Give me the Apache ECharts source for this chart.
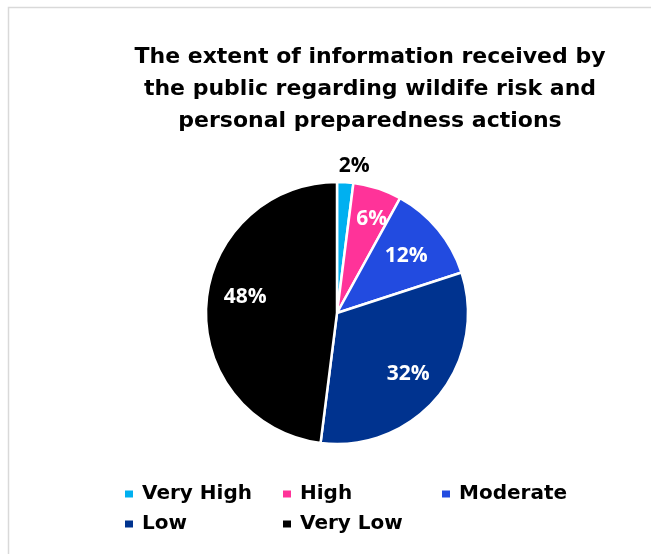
<!DOCTYPE html>
<html>
<head>
<meta charset="utf-8">
<script src="https://cdn.jsdelivr.net/npm/echarts@6/dist/echarts.min.js"></script>
<style>
html,body{margin:0;padding:0;background:#fff;}
#chart{width:651px;height:554px;}
</style>
</head>
<body>
<div id="chart"></div>
<script>
var titleText = 'The extent of information received by\nthe public regarding wildife risk and\npersonal preparedness actions';
var categories = ['Very High', 'High', 'Moderate', 'Low', 'Very Low'];
var values = [2, 6, 12, 32, 48];
var colors = ['#00B0F0', '#FF3399', '#224BE0', '#00338F', '#000000'];

// legend layout (left, top) per item
var legendPos = [[118, 479], [276, 479], [435, 479], [118, 509], [276, 509]];
// label fine offsets per slice
var labelShift = [[11, -48], [4, 0], [-7, 6], [-5, -2], [7, -10]];

var FONT = '"DejaVu Sans", sans-serif';
var chart = echarts.init(document.getElementById('chart'));

var legends = categories.map(function (name, i) {
  return {
    left: legendPos[i][0], top: legendPos[i][1],
    data: [name],
    icon: 'rect', itemWidth: 10, itemHeight: 9, itemGap: 0,
    selectedMode: false,
    textStyle: { fontFamily: FONT, fontWeight: 'bold', fontSize: 20, color: '#000', padding: [0, 0, 0, 3] }
  };
});

var pieData = categories.map(function (name, i) {
  return { name: name, value: values[i], itemStyle: { color: colors[i] } };
});
var labelData = categories.map(function (name, i) {
  return {
    name: name, value: values[i],
    label: { color: i === 0 ? '#000' : '#fff' }
  };
});

chart.setOption({
  animation: false,
  backgroundColor: '#fff',
  graphic: [{
    type: 'rect', silent: true, z: -10,
    shape: { x: 8.5, y: 7.5, width: 700, height: 600 },
    style: { fill: 'none', stroke: '#d9d9d9', lineWidth: 1.5 }
  }],
  title: {
    text: titleText,
    left: 365, top: 36, textAlign: 'center',
    textStyle: { fontFamily: FONT, fontWeight: 'bold', fontSize: 22, lineHeight: 32, color: '#000' }
  },
  legend: legends,
  series: [{
    type: 'pie',
    center: [337, 313],
    radius: [0, 131],
    startAngle: 90,
    clockwise: true,
    label: { show: false },
    labelLine: { show: false },
    itemStyle: { borderColor: '#fff', borderWidth: 2.5 },
    emphasis: { disabled: true },
    data: pieData
  }, {
    type: 'pie',
    name: 'labels',
    center: [337, 313],
    radius: [62, 130],
    startAngle: 90,
    clockwise: true,
    silent: true,
    legendHoverLink: false,
    itemStyle: { color: 'rgba(0,0,0,0)' },
    label: {
      show: true, position: 'inside',
      formatter: function (p) { return p.value + '%'; },
      fontFamily: '"Open Sans", sans-serif', fontWeight: 'bold', fontSize: 21
    },
    labelLayout: function (p) {
      var s = labelShift[p.dataIndex];
      return { dx: s[0], dy: s[1] };
    },
    emphasis: { disabled: true },
    data: labelData
  }]
});
</script>
</body>
</html>
